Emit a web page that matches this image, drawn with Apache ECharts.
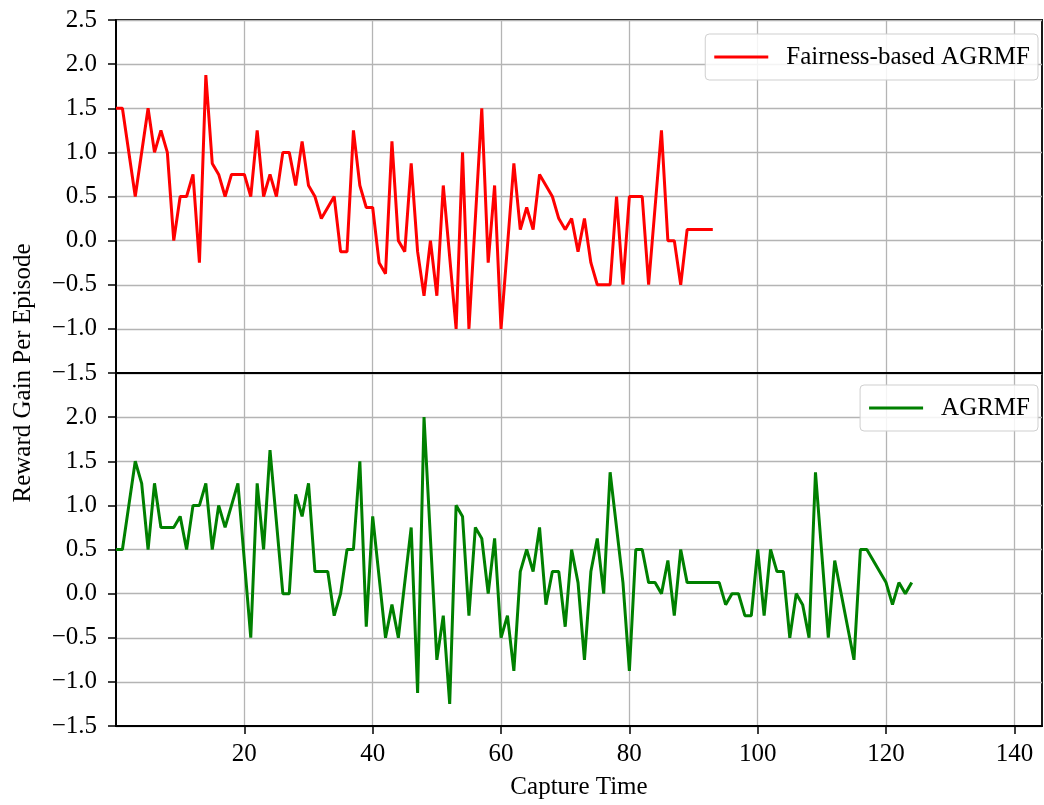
<!DOCTYPE html>
<html>
<head>
<meta charset="utf-8">
<script src="https://cdn.jsdelivr.net/npm/echarts@6/dist/echarts.min.js"></script>
<style>
html,body{margin:0;padding:0;background:#fff;}
#chart{width:1044px;height:805px;}
</style>
</head>
<body>
<div id="chart"></div>
<script>
// Capture times (x) and reward gain per episode (y)
const redName = 'Fairness-based AGRMF';
const greenName = 'AGRMF';

const redX = [0,1,3,5,6,7,8,9,10,11,
  12,13,14,15,16,17,18,19,20,21,
  22,23,24,25,26,27,28,29,30,31,
  32,34,35,36,37,38,39,40,41,42,
  43,44,45,46,47,48,49,50,51,53,
  54,55,57,58,59,60,62,63,64,65,
  66,67,68,69,70,71,72,73,74,75,
  76,77,78,79,80,81,82,83,85,86,
  87,88,89,90,91,92,93];
const redY = [1.5,1.5,0.5,1.5,1.0,1.25,1.0,0.0,0.5,0.5,
  0.75,-0.25,1.875,0.875,0.75,0.5,0.75,0.75,0.75,0.5,
  1.25,0.5,0.75,0.5,1.0,1.0,0.625,1.125,0.625,0.5,
  0.25,0.5,-0.125,-0.125,1.25,0.625,0.375,0.375,-0.25,-0.375,
  1.125,0.0,-0.125,0.875,-0.125,-0.625,0.0,-0.625,0.625,-1.0,
  1.0,-1.0,1.5,-0.25,0.625,-1.0,0.875,0.125,0.375,0.125,
  0.75,0.625,0.5,0.25,0.125,0.25,-0.125,0.25,-0.25,-0.5,
  -0.5,-0.5,0.5,-0.5,0.5,0.5,0.5,-0.5,1.25,0.0,
  0.0,-0.5,0.125,0.125,0.125,0.125,0.125];

const greenX = [0,1,3,4,5,6,7,8,9,10,
  11,12,13,14,15,16,17,19,21,22,
  23,24,26,27,28,29,30,31,32,33,
  34,35,36,37,38,39,40,42,43,44,
  46,47,48,50,51,52,53,54,55,56,
  57,58,59,60,61,62,63,64,65,66,
  67,68,69,70,71,72,73,74,75,76,
  77,79,80,81,82,83,84,85,86,87,
  88,89,90,91,92,93,94,95,96,97,
  98,99,100,101,102,103,104,105,106,107,
  108,109,111,112,115,116,117,120,121,122,
  123,124];
const greenY = [0.5,0.5,1.5,1.25,0.5,1.25,0.75,0.75,0.75,0.875,
  0.5,1.0,1.0,1.25,0.5,1.0,0.75,1.25,-0.5,1.25,
  0.5,1.625,0.0,0.0,1.125,0.875,1.25,0.25,0.25,0.25,
  -0.25,0.0,0.5,0.5,1.5,-0.375,0.875,-0.5,-0.125,-0.5,
  0.75,-1.125,2.0,-0.75,-0.25,-1.25,1.0,0.875,-0.25,0.75,
  0.625,0.0,0.625,-0.5,-0.25,-0.875,0.25,0.5,0.25,0.75,
  -0.125,0.25,0.25,-0.375,0.5,0.125,-0.75,0.25,0.625,0.0,
  1.375,0.125,-0.875,0.5,0.5,0.125,0.125,0.0,0.375,-0.25,
  0.5,0.125,0.125,0.125,0.125,0.125,0.125,-0.125,0.0,0.0,
  -0.25,-0.25,0.5,-0.25,0.5,0.25,0.25,-0.5,0.0,-0.125,
  -0.5,1.375,-0.5,0.375,-0.75,0.5,0.5,0.125,-0.125,0.125,
  0.0,0.125];

const xTicks = [20,40,60,80,100,120,140];
const xMin = 0, xMax = 144.3;
const yMin = -1.5, yMax = 2.5, yStep = 0.5;

const FONT = 'Liberation Serif';
const FS = 25;
const RED = '#ff0000', GREEN = '#008000';

function pairs(xs, ys){ return xs.map((x,i)=>[x, ys[i]]); }
function fmtY(v){ return (v < 0 ? '\u2212' : '') + Math.abs(v).toFixed(1); }

const chart = echarts.init(document.getElementById('chart'), null, {renderer:'canvas'});

const gridBase = {left:116, right:2, height:353, show:true, borderColor:'#000', borderWidth:1.8, backgroundColor:'transparent'};

function xAxisFor(gridIndex, showLabels){
  return {
    type:'value', gridIndex, min:xMin, max:xMax, interval:20,
    axisLine:{show:true, onZero:false, lineStyle:{color:'#000', width:1.8}},
    axisTick:{show:showLabels, inside:false, length:8, lineStyle:{color:'#000', width:1.5}, customValues:xTicks},
    axisLabel:{show:showLabels, customValues:xTicks, margin:16, color:'#000', fontFamily:FONT, fontSize:FS,
      formatter:v=>String(v)},
    splitLine:{show:true, lineStyle:{color:'#b4b4b4', width:1.3}},
    name: showLabels ? 'Capture Time' : '',
    nameLocation:'middle', nameGap:49,
    nameTextStyle:{color:'#000', fontFamily:FONT, fontSize:FS}
  };
}
function yAxisFor(gridIndex, showMax){
  return {
    type:'value', gridIndex, min:yMin, max:yMax, interval:yStep,
    axisLine:{show:true, onZero:false, lineStyle:{color:'#000', width:1.8}},
    axisTick:{show:true, inside:false, length:8, lineStyle:{color:'#000', width:1.5}},
    axisLabel:{show:true, margin:19, color:'#000', fontFamily:FONT, fontSize:FS, formatter:fmtY, showMaxLabel:showMax, showMinLabel:true},
    splitLine:{show:true, lineStyle:{color:'#b4b4b4', width:1.3}}
  };
}
const legendBase = {
  orient:'horizontal', right:6, padding:[9,8,9,9],
  backgroundColor:'rgba(255,255,255,0.85)', borderColor:'#cfcfcf', borderWidth:1, borderRadius:4,
  itemWidth:54, itemHeight:3, icon:'rect',
  textStyle:{color:'#000', fontFamily:FONT, fontSize:FS, padding:[0,0,0,13], lineHeight:28}
};

chart.setOption({
  animation:false,
  backgroundColor:'#fff',
  grid:[Object.assign({top:20}, gridBase), Object.assign({top:373}, gridBase)],
  xAxis:[xAxisFor(0,false), xAxisFor(1,true)],
  yAxis:[yAxisFor(0,true), yAxisFor(1,false)],
  legend:[
    Object.assign({top:34, data:[redName]}, legendBase),
    Object.assign({top:385, data:[greenName]}, legendBase)
  ],
  series:[
    {name:redName, type:'line', xAxisIndex:0, yAxisIndex:0, data:pairs(redX, redY),
     symbol:'none', showSymbol:false, clip:true, lineStyle:{color:RED, width:3}, itemStyle:{color:RED}},
    {name:greenName, type:'line', xAxisIndex:1, yAxisIndex:1, data:pairs(greenX, greenY),
     symbol:'none', showSymbol:false, clip:true, lineStyle:{color:GREEN, width:3}, itemStyle:{color:GREEN}}
  ],
  graphic:[{
    type:'text', x:23, y:373, rotation:Math.PI/2,
    style:{text:'Reward Gain Per Episode', fill:'#000', font:FS+'px "'+FONT+'"', align:'center', verticalAlign:'middle', textAlign:'center', textVerticalAlign:'middle'}
  }]
});
</script>
</body>
</html>
